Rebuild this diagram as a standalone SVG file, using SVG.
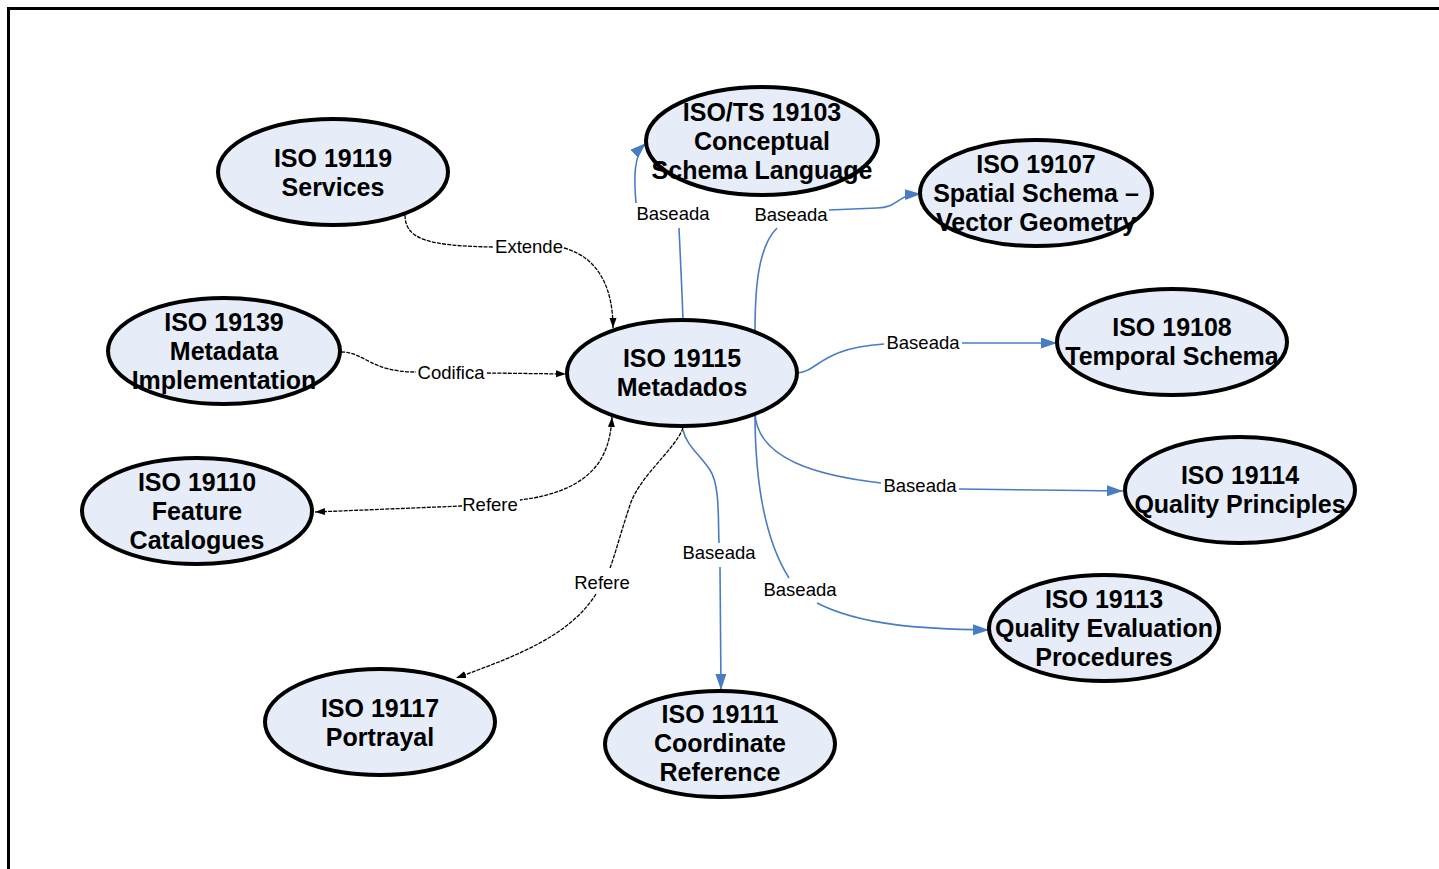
<svg xmlns="http://www.w3.org/2000/svg" width="1439" height="869" viewBox="0 0 1439 869">
<style>
.node ellipse{fill:#e6edf8;stroke:#000;stroke-width:4}
.node text{font-family:"Liberation Sans",Arial,sans-serif;font-weight:bold;font-size:25px;text-anchor:middle;fill:#000}
.blue{fill:none;stroke:#4a7cc4;stroke-width:1.6}
.blk{fill:none;stroke:#000;stroke-width:1.3;stroke-dasharray:4 1.2}
.lbl{font-family:"Liberation Sans",Arial,sans-serif;font-size:18.5px;text-anchor:middle;fill:#000}
</style>
<defs>
<marker id="ab" markerUnits="userSpaceOnUse" markerWidth="17" markerHeight="12" refX="16" refY="5.5" orient="auto-start-reverse" viewBox="0 0 17 12"><path d="M0,0 L16,5.5 L0,11 z" fill="#4a7cc4"/></marker>
<marker id="ak" markerUnits="userSpaceOnUse" markerWidth="11" markerHeight="8" refX="10" refY="3.5" orient="auto-start-reverse" viewBox="0 0 11 8"><path d="M0,0 L10,3.5 L0,7 z" fill="#000"/></marker>
</defs>
<rect x="8.5" y="8.5" width="1460" height="900" fill="#fff" stroke="#000" stroke-width="3"/>
<g id="connectors">
<path class="blk" d="M405,215 C405,240 430,246 494,247"/>
<path class="blk" d="M564,248 C600,258 613,290 613,328" marker-end="url(#ak)"/>
<text class="lbl" x="529" y="253">Extende</text>
<path class="blk" d="M341,352 C365,352 370,372 416,372"/>
<path class="blk" d="M487,373 L566,374" marker-end="url(#ak)"/>
<text class="lbl" x="451" y="379">Codifica</text>
<path class="blk" d="M612,417 C610,450 600,490 520,500" marker-start="url(#ak)"/>
<path class="blk" d="M462,506 L315,512" marker-end="url(#ak)"/>
<text class="lbl" x="490" y="511">Refere</text>
<path class="blk" d="M683,428 C675,450 640,475 630,505 S615,555 610,568"/>
<path class="blk" d="M596,594 C570,635 520,655 456,678" marker-end="url(#ak)"/>
<text class="lbl" x="602" y="589">Refere</text>
<path class="blue" d="M683,320 C682,290 680,250 679,228"/>
<path class="blue" d="M636,203 C634,180 633,155 646,143" marker-end="url(#ab)"/>
<text class="lbl" x="673" y="220">Baseada</text>
<path class="blue" d="M755,330 C755,280 760,245 777,228"/>
<path class="blue" d="M829,210 L877,208 C900,207 895,195 921,194" marker-end="url(#ab)"/>
<text class="lbl" x="791" y="221">Baseada</text>
<path class="blue" d="M797,373 C818,372 820,348 884,344"/>
<path class="blue" d="M962,343 L1057,343" marker-end="url(#ab)"/>
<text class="lbl" x="923" y="349">Baseada</text>
<path class="blue" d="M755,413 C757,460 820,476 881,483"/>
<path class="blue" d="M959,489 L1123,491" marker-end="url(#ab)"/>
<text class="lbl" x="920" y="492">Baseada</text>
<path class="blue" d="M755,413 C755,480 765,540 789,578"/>
<path class="blue" d="M817,603 C860,625 920,629 989,630" marker-end="url(#ab)"/>
<text class="lbl" x="800" y="596">Baseada</text>
<path class="blue" d="M683,430 C686,445 700,455 710,470 S718,520 719,543"/>
<path class="blue" d="M720,567 L721,690" marker-end="url(#ab)"/>
<text class="lbl" x="719" y="559">Baseada</text>
</g>
<g id="n19119" class="node"><ellipse cx="333" cy="172" rx="115" ry="53"/><text x="333" y="167">ISO 19119</text><text x="333" y="196">Services</text></g>
<g id="n19103" class="node"><ellipse cx="762" cy="141" rx="116" ry="54"/><text x="762" y="121">ISO/TS 19103</text><text x="762" y="150">Conceptual</text><text x="762" y="179">Schema Language</text></g>
<g id="n19107" class="node"><ellipse cx="1036" cy="193" rx="116" ry="53"/><text x="1036" y="173">ISO 19107</text><text x="1036" y="202">Spatial Schema –</text><text x="1036" y="231">Vector Geometry</text></g>
<g id="n19139" class="node"><ellipse cx="224" cy="351" rx="116" ry="53"/><text x="224" y="331">ISO 19139</text><text x="224" y="360">Metadata</text><text x="224" y="389">Implementation</text></g>
<g id="n19115" class="node"><ellipse cx="682" cy="373" rx="115" ry="53"/><text x="682" y="367">ISO 19115</text><text x="682" y="396">Metadados</text></g>
<g id="n19108" class="node"><ellipse cx="1172" cy="342" rx="115" ry="53"/><text x="1172" y="336">ISO 19108</text><text x="1172" y="365">Temporal Schema</text></g>
<g id="n19110" class="node"><ellipse cx="197" cy="511" rx="115" ry="53"/><text x="197" y="491">ISO 19110</text><text x="197" y="520">Feature</text><text x="197" y="549">Catalogues</text></g>
<g id="n19114" class="node"><ellipse cx="1240" cy="490" rx="115" ry="53"/><text x="1240" y="484">ISO 19114</text><text x="1240" y="513">Quality Principles</text></g>
<g id="n19113" class="node"><ellipse cx="1104" cy="628" rx="115" ry="53"/><text x="1104" y="608">ISO 19113</text><text x="1104" y="637">Quality Evaluation</text><text x="1104" y="666">Procedures</text></g>
<g id="n19117" class="node"><ellipse cx="380" cy="722" rx="115" ry="53"/><text x="380" y="717">ISO 19117</text><text x="380" y="746">Portrayal</text></g>
<g id="n19111" class="node"><ellipse cx="720" cy="744" rx="115" ry="53"/><text x="720" y="723">ISO 19111</text><text x="720" y="752">Coordinate</text><text x="720" y="781">Reference</text></g>
</svg>
